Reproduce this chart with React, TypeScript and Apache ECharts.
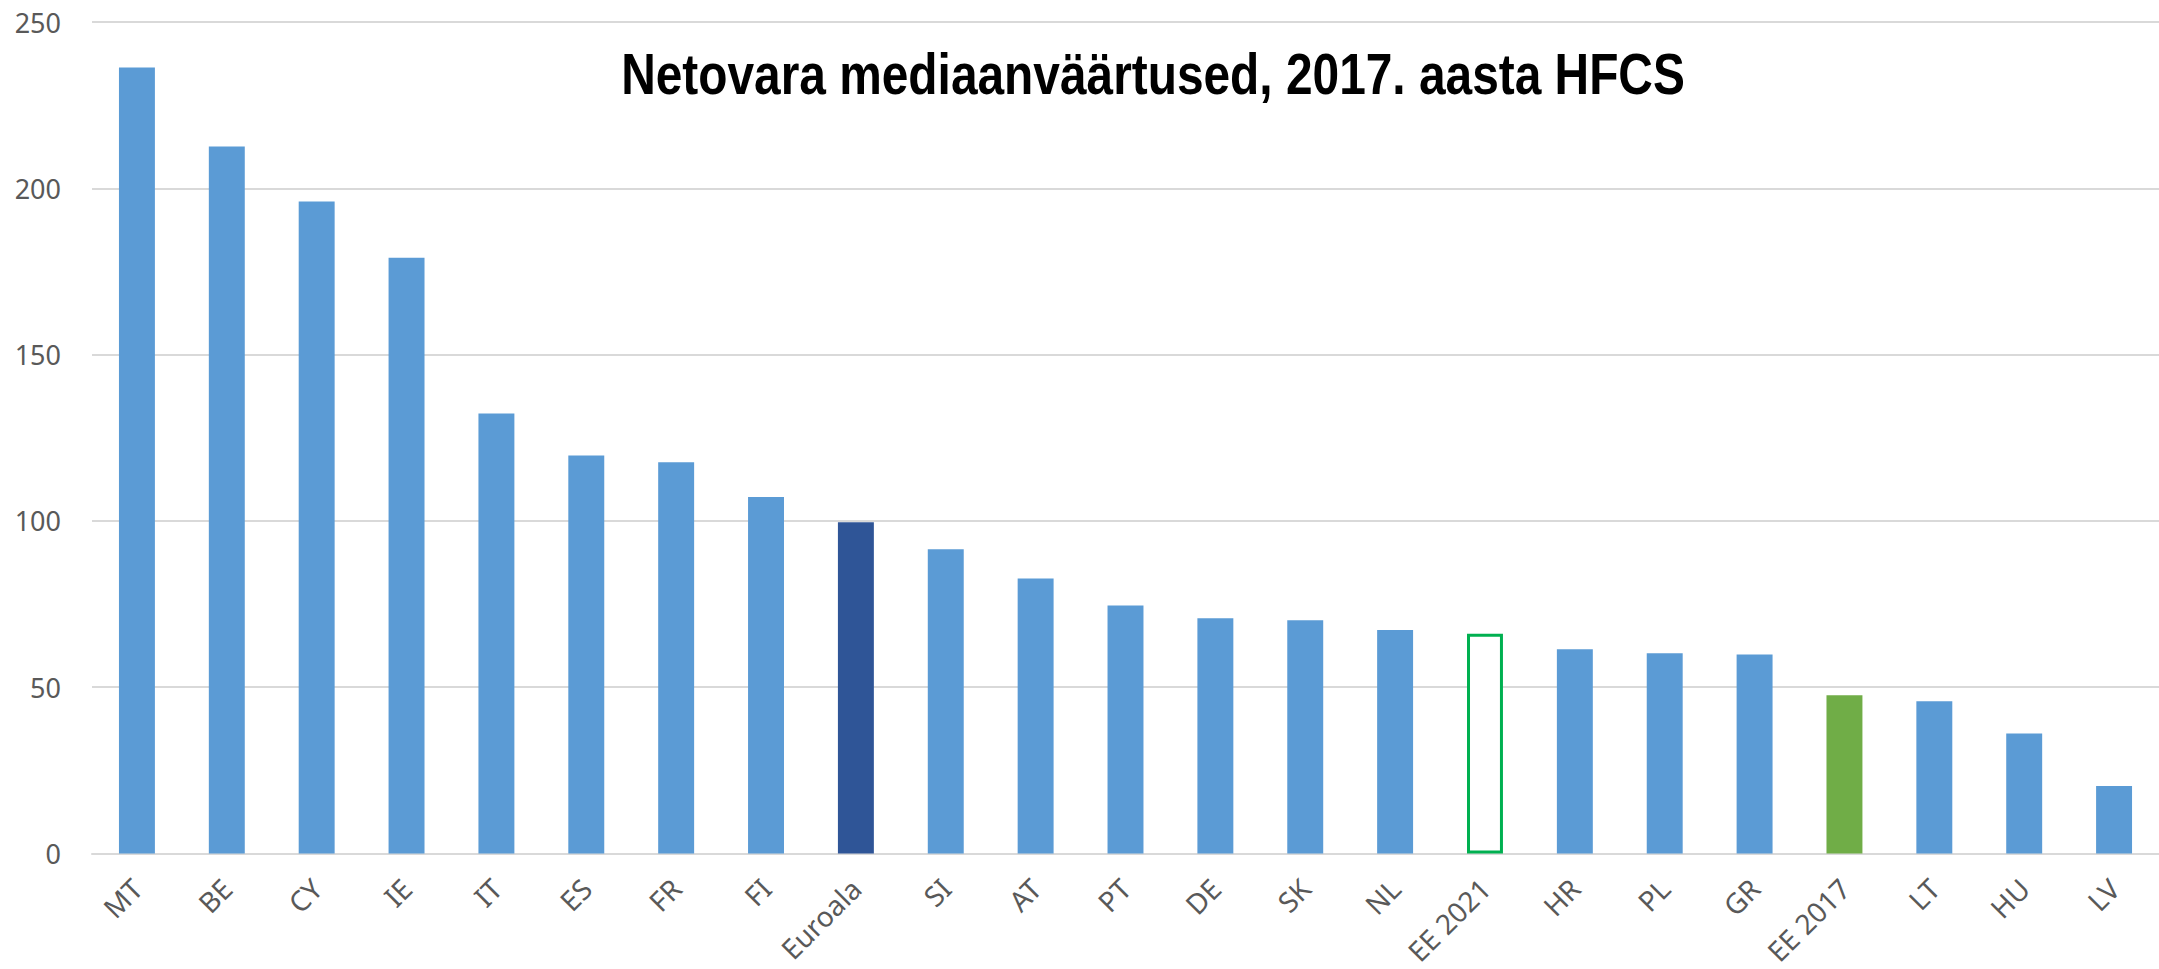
import React, { useEffect, useRef } from "react";
import * as echarts from "echarts";

const categories = ["MT", "BE", "CY", "IE", "IT", "ES", "FR", "FI", "Euroala", "SI", "AT", "PT", "DE", "SK", "NL", "EE 2021", "HR", "PL", "GR", "EE 2017", "LT", "HU", "LV"];
const values = [236.3, 212.6, 196.0, 179.1, 132.3, 119.7, 117.6, 107.2, 99.6, 91.5, 82.7, 74.6, 70.7, 70.1, 67.2, 66.1, 61.4, 60.2, 59.8, 47.6, 45.8, 36.1, 20.3];
const yTicks = [0, 50, 100, 150, 200, 250];
const titleText = "Netovara mediaanväärtused, 2017. aasta HFCS";

const BLUE = "#5B9BD5";
const DARK = "#2F5597";
const GREEN = "#70AD47";
const OUTLINE = "#00B050";

export default function App() {
  const ref = useRef<HTMLDivElement>(null);
  useEffect(() => {
    if (!ref.current) return;
    const chart = echarts.init(ref.current, undefined, { renderer: "svg" });
    const data = values.map((v, i) => {
      const c = categories[i];
      if (c === "Euroala") return { value: v, itemStyle: { color: DARK } };
      if (c === "EE 2017") return { value: v, itemStyle: { color: GREEN } };
      if (c === "EE 2021")
        return { value: v, itemStyle: { color: "#FFFFFF", borderColor: OUTLINE, borderWidth: 3 } };
      return { value: v, itemStyle: { color: BLUE } };
    });
    chart.setOption({
      animation: false,
      backgroundColor: "#FFFFFF",
      graphic: [
        {
          type: "text",
          x: 1153,
          y: 45,
          scaleX: 0.825,
          z: 10,
          style: {
            text: titleText,
            fontFamily: "Liberation Sans, Arial, sans-serif",
            fontWeight: "bold",
            fontSize: 58,
            fill: "#000000",
            align: "center",
            verticalAlign: "top",
          },
        },
      ],
      grid: { left: 92, right: -5, top: 22, bottom: 115.5, containLabel: false },
      xAxis: {
        type: "category",
        data: categories,
        axisLine: { show: true, lineStyle: { color: "#D9D9D9", width: 2 } },
        axisTick: { show: false },
        axisLabel: {
          rotate: 45,
          interval: 0,
          margin: 30,
          color: "#595959",
          fontSize: 28,
          fontFamily: "Noto Sans, Open Sans, sans-serif",
        },
      },
      yAxis: {
        type: "value",
        min: yTicks[0],
        max: yTicks[yTicks.length - 1],
        interval: 50,
        axisLine: { show: false },
        axisTick: { show: false },
        splitLine: { show: true, lineStyle: { color: "#D9D9D9", width: 2 } },
        axisLabel: {
          margin: 31,
          color: "#595959",
          fontSize: 27,
          fontFamily: "Noto Sans, Open Sans, sans-serif",
        },
      },
      series: [
        {
          type: "bar",
          data,
          barWidth: "40%",
        },
      ],
    });
    return () => chart.dispose();
  }, []);
  return (
    <div
      ref={ref}
      style={{ position: "absolute", left: 0, top: 0, width: 2159, height: 969, background: "#fff" }}
    />
  );
}
